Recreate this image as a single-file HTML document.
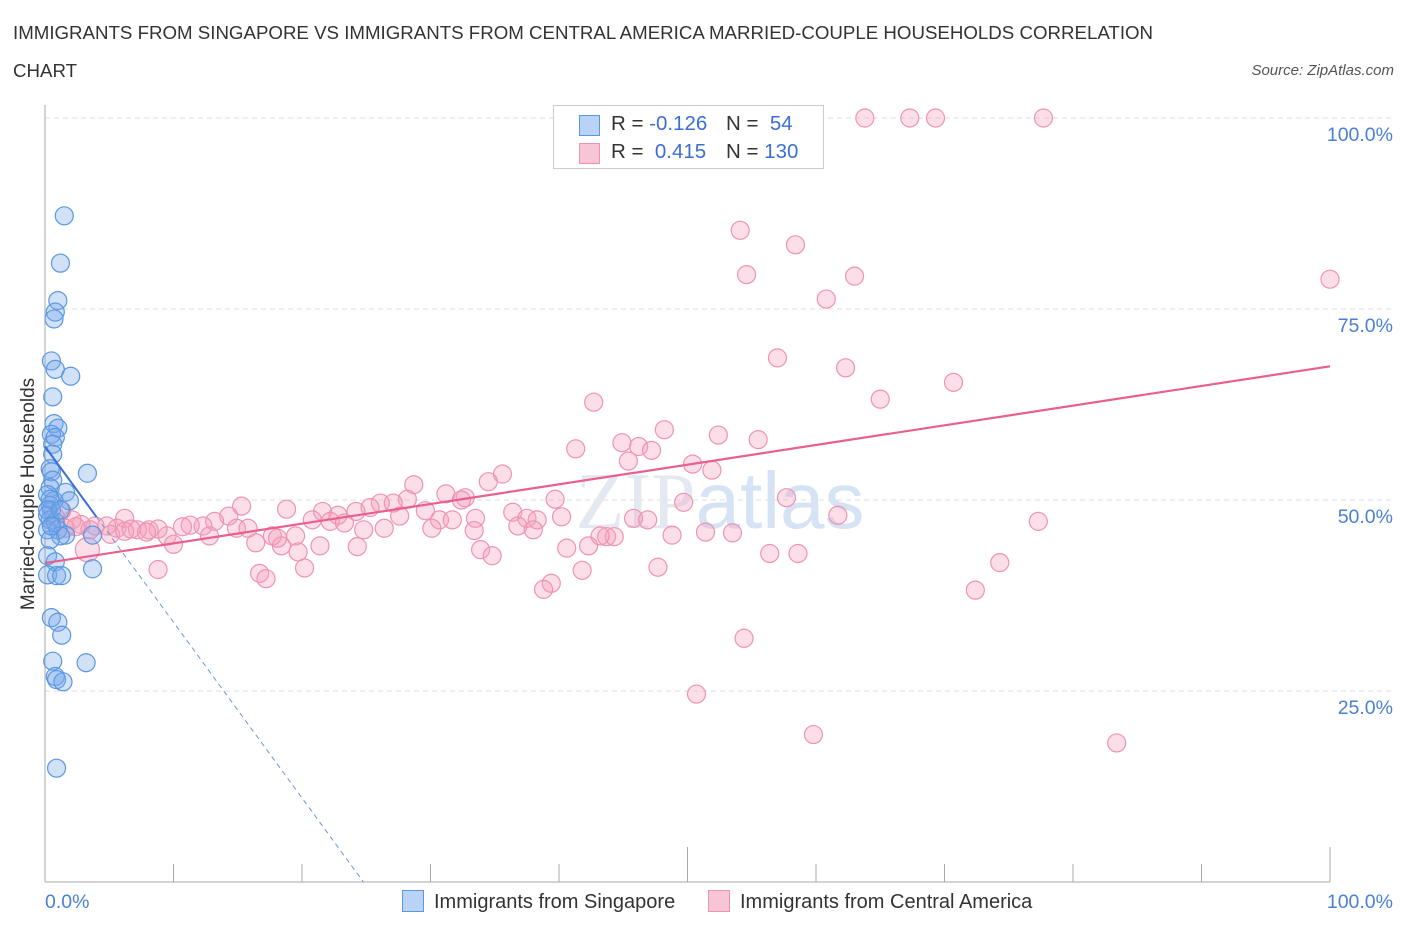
<!DOCTYPE html>
<html><head><meta charset="utf-8"><style>
body{margin:0;background:#fff;font-family:"Liberation Sans",sans-serif}
#wrap{position:relative;width:1406px;height:930px;overflow:hidden}
.t{position:absolute;white-space:nowrap}
</style></head><body>
<div id="wrap">
<div class="t" style="left:13px;top:14px;font-size:18.7px;color:#333;line-height:38px">IMMIGRANTS FROM SINGAPORE VS IMMIGRANTS FROM CENTRAL AMERICA MARRIED-COUPLE HOUSEHOLDS CORRELATION<br>CHART</div>
<div class="t" style="right:12px;top:62px;font-size:15px;font-style:italic;color:#555">Source: ZipAtlas.com</div>
<svg id="svg" width="1406" height="930" style="position:absolute;left:0;top:0"></svg>
</div>
<script>
const blueX=[1.5,1.2,1.0,0.8,0.7,0.5,0.8,2.0,0.6,0.7,1.0,0.5,0.8,0.6,0.6,0.4,3.3,0.5,0.6,0.4,1.6,1.9,0.2,0.7,0.4,0.5,0.2,0.4,0.8,0.2,1.0,1.6,3.7,1.2,0.4,0.2,0.8,3.7,0.2,0.9,1.3,0.5,1.0,1.3,0.6,3.2,0.8,0.9,1.4,0.9,0.4,0.2,1.2,0.5];
const blueY=[87.2,81.0,76.1,74.6,73.7,68.2,67.1,66.2,63.5,60.0,59.4,58.6,58.2,57.3,56.0,54.1,53.5,53.7,52.6,51.6,51.0,49.9,50.7,49.9,49.3,48.7,48.0,47.4,47.1,46.1,46.1,45.4,45.4,45.3,44.8,42.7,41.9,41.0,40.2,40.1,40.1,34.6,34.0,32.3,28.9,28.7,26.9,26.5,26.2,14.9,50.1,48.7,48.7,46.6];
const pinkX=[63.8,67.3,69.3,77.7,54.1,58.4,54.6,63.0,100,60.8,57.0,62.3,70.7,65.0,42.7,48.2,52.4,55.5,44.9,46.2,47.2,41.3,45.4,50.4,51.9,35.6,34.5,28.7,39.7,49.7,57.7,31.2,32.7,15.3,18.8,61.7,77.3,32.4,26.1,28.2,25.3,27.1,24.2,21.6,22.8,20.8,22.2,23.3,27.6,29.6,30.7,31.7,33.5,36.4,37.5,38.3,40.2,45.8,46.9,36.8,38.0,33.4,30.1,26.4,24.8,14.3,13.2,12.3,11.3,10.7,9.5,10.0,8.1,8.8,7.2,6.2,5.6,4.8,3.9,2.8,2.1,1.3,0.8,1.6,2.4,3.5,5.1,7.9,6.2,6.7,12.8,14.9,15.8,17.7,19.5,16.4,18.4,21.4,24.3,18.1,43.7,44.3,40.6,42.3,48.8,51.4,53.5,33.9,34.8,43.2,19.7,20.2,8.8,16.7,17.2,39.4,38.8,41.8,47.7,56.4,58.6,74.3,72.4,54.4,50.7,59.8,83.4,3.3];
const pinkY=[100,100,100,100,85.3,83.4,79.5,79.3,78.9,76.3,68.6,67.3,65.4,63.2,62.8,59.2,58.5,57.9,57.5,57.0,56.5,56.7,55.1,54.7,53.9,53.4,52.4,52.0,50.1,49.7,50.3,50.8,50.3,49.2,48.8,48.0,47.2,50.0,49.6,50.1,49.0,49.6,48.5,48.5,48.0,47.4,47.2,47.0,47.9,48.6,47.4,47.4,47.6,48.4,47.6,47.4,47.8,47.6,47.4,46.6,46.1,46.0,46.3,46.3,46.1,47.9,47.2,46.6,46.7,46.5,45.3,44.2,46.1,46.2,46.1,47.6,46.3,46.6,46.6,46.8,47.4,48.6,47.8,46.3,46.5,46.1,45.5,45.8,45.9,46.2,45.3,46.3,46.3,45.3,45.3,44.4,44.0,44.0,43.9,45.0,45.2,45.2,43.7,44.0,45.4,45.8,45.7,43.5,42.7,45.3,43.2,41.1,40.9,40.4,39.7,39.1,38.3,40.8,41.2,43.0,43.0,41.8,38.2,31.9,24.6,19.3,18.2,43.5];
const pinkLine=[41.75,67.5], blueLine=[57,47.8];
const xTickLabels=["0.0%","100.0%"], yTickVals=[25,50,75,100], yTickLabels=["25.0%","50.0%","75.0%","100.0%"];
const X=v=>45+v*12.85, Y=v=>882-v*7.64;
const svg=document.getElementById('svg');const NS='http://www.w3.org/2000/svg';
function mk(tag,at,par){const e=document.createElementNS(NS,tag);for(const k in at)e.setAttribute(k,at[k]);(par||svg).appendChild(e);return e;}
yTickVals.forEach((v,i)=>{
 const g=mk('line',{x1:45,x2:1392,y1:Y(v),y2:Y(v),stroke:'#ddd','stroke-dasharray':'5,4'});
 
 
 const t=mk('text',{x:1393,y:Y(v)+23,'text-anchor':'end','font-size':19.5,fill:'#4a7fd6','font-family':'Liberation Sans'});t.textContent=yTickLabels[i];
 
 
});
const ax=mk('line',{x1:45,x2:45,y1:105,y2:882,stroke:'#aaa'});


const bx=mk('line',{x1:45,x2:1330,y1:882,y2:882,stroke:'#aaa'});


for(let i=0;i<=10;i++){const tk=mk('line',{x1:X(i*10),x2:X(i*10),y1:(i==5||i==10)?847:864,y2:882,stroke:'#aaa'});
 
 }
[[0,'start',45],[1,'end',1393]].forEach(([i,a,x])=>{const t=mk('text',{x:x,y:908,'text-anchor':a,'font-size':19.5,fill:'#4a7fd6','font-family':'Liberation Sans'});t.textContent=xTickLabels[i];
 
 });
const wm=mk('text',{x:720,y:528,'text-anchor':'middle','font-size':80,fill:'#e4e9f1','font-family':'Liberation Serif'});wm.innerHTML='<tspan>ZIP</tspan><tspan fill="#d6e3f5" font-family="Liberation Sans">atlas</tspan>';


pinkX.forEach((v,i)=>{const c=mk('circle',{cx:X(v),cy:Y(pinkY[i]),r:i==pinkX.length-1?12:9,fill:'rgba(244,160,190,0.35)',stroke:'#ef93b3','stroke-width':1.2});
 
 });
blueX.forEach((v,i)=>{const c=mk('circle',{cx:X(v),cy:Y(blueY[i]),r:9,fill:'rgba(120,170,235,0.35)',stroke:'#5b97e0','stroke-width':1.2});
 
 });
const bslope=(blueLine[1]-blueLine[0])/4, xint=-blueLine[0]/bslope;
const bs=mk('line',{x1:X(0),y1:Y(blueLine[0]),x2:X(4),y2:Y(blueLine[1]),stroke:'#3b6fd4','stroke-width':2});


const bd=mk('line',{x1:X(4),y1:Y(blueLine[1]),x2:X(xint),y2:Y(0),stroke:'#6f95dc','stroke-width':1,'stroke-dasharray':'5,4'});


const pl=mk('line',{x1:X(0),y1:Y(pinkLine[0]),x2:X(100),y2:Y(pinkLine[1]),stroke:'#e8608e','stroke-width':2.2});


const yt=mk('text',{transform:'translate(34,494) rotate(-90)','text-anchor':'middle','font-size':19,fill:'#333','font-family':'Liberation Sans'});yt.textContent='Married-couple Households';


</script>
<div class="t" style="left:553px;top:105px;width:269px;height:62px;border:1px solid #ccc;background:#fff;font-size:20.5px;color:#333">
 <div style="position:absolute;left:25px;top:9px;width:19px;height:19px;background:#b8d3f5;border:1px solid #5b97e0"></div>
 <div style="position:absolute;left:57px;top:6px">R = <span style="color:#3b6fd4">-0.126</span></div>
 <div style="position:absolute;left:172px;top:6px">N = &nbsp;<span style="color:#3b6fd4">54</span></div>
 <div style="position:absolute;left:25px;top:37px;width:19px;height:19px;background:#f8c5d6;border:1px solid #ef93b3"></div>
 <div style="position:absolute;left:57px;top:34px">R = &nbsp;<span style="color:#3b6fd4">0.415</span></div>
 <div style="position:absolute;left:172px;top:34px">N = <span style="color:#3b6fd4">130</span></div>
</div>
<div class="t" style="left:402px;top:890px;font-size:20px;color:#333"><span style="display:inline-block;width:20px;height:20px;background:#b8d3f5;border:1px solid #5b97e0;vertical-align:-4px;margin-right:10px"></span>Immigrants from Singapore</div>
<div class="t" style="left:708px;top:890px;font-size:20px;color:#333"><span style="display:inline-block;width:20px;height:20px;background:#f8c5d6;border:1px solid #ef93b3;vertical-align:-4px;margin-right:10px"></span>Immigrants from Central America</div>
</body></html>
